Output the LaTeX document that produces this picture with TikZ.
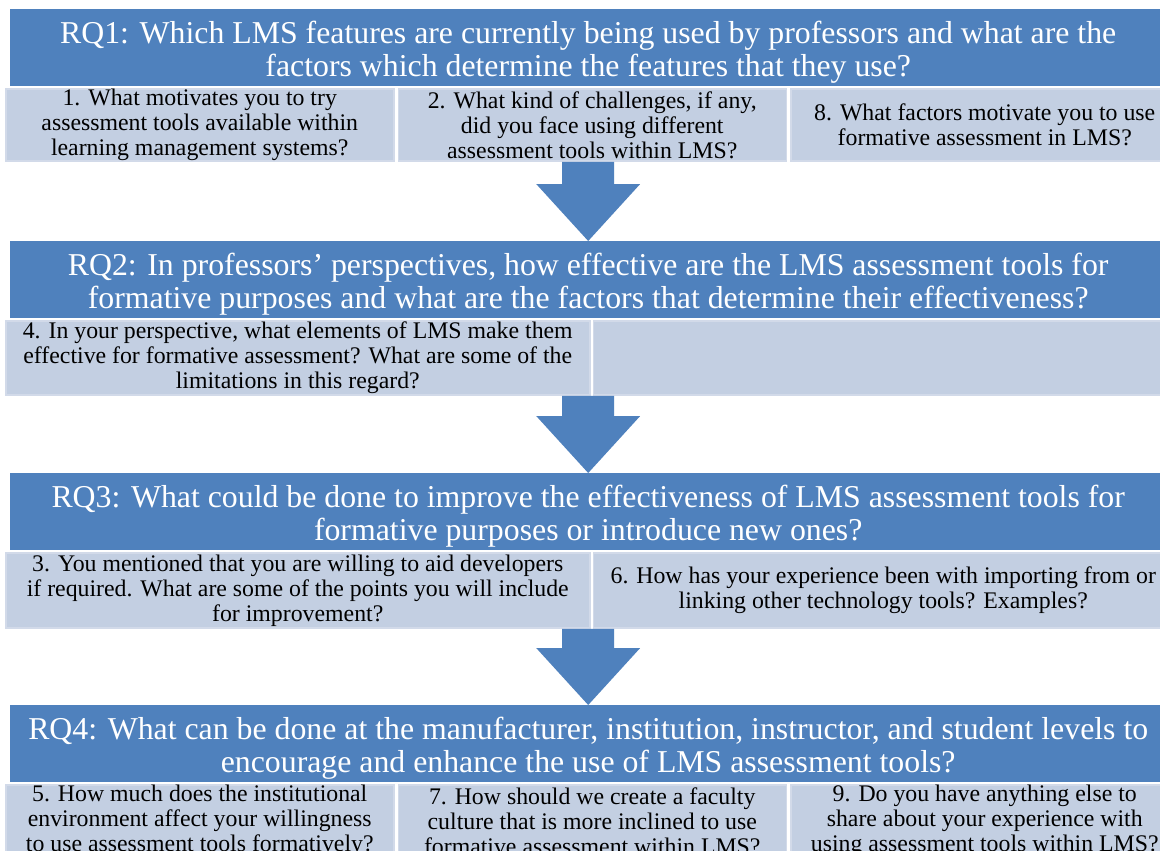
\documentclass[tikz,border=0pt]{standalone}
\usepackage{fontspec}
\setmainfont{Liberation Serif}
\usepackage{tikz}
\usetikzlibrary{positioning, calc}
\definecolor{headblue}{RGB}{79, 129, 189}
\definecolor{qfill}{RGB}{195, 207, 226}
\definecolor{qedge}{RGB}{210, 218, 233}
\tikzset{
  headbox/.style={fill=headblue, text=white, minimum width=1156pt, minimum height=77pt,
    inner sep=0pt, align=center, anchor=north west, font=\fontsize{31.8}{33}\selectfont,
    text height=64pt, text depth=7pt},
  qbox/.style={fill=qfill, draw=qedge, line width=1.5pt, minimum height=72pt,
    inner sep=0pt, align=center, font=\fontsize{23.8}{25}\selectfont},
}
\newcommand{\flowarrow}[2]{%
  \fill[headblue] let \p1=(#1), \p2=(#2) in
    ({\x2-26pt},{\y1}) -- ({\x2+26pt},{\y1}) -- ({\x2+26pt},{\y2+57pt}) -- ({\x2+52pt},{\y2+57pt})
    -- (\x2,\y2) -- ({\x2-52pt},{\y2+57pt}) -- ({\x2-26pt},{\y2+57pt}) -- cycle;}

\begin{document}
\begin{tikzpicture}[x=1pt, y=-1pt]
  \useasboundingbox[fill=white] (0,0) rectangle (1160,851);

  \node[headbox] (rq1) at (10,9) {RQ1: Which LMS features are currently being used by professors and what are the\\factors which determine the features that they use?};
  \node[qbox, minimum width=388pt, anchor=north west] (q1a) at ([xshift=-5pt, yshift=-2pt]rq1.south west)
    {1. What motivates you to try\\assessment tools available within\\learning management systems?};
  \node[qbox, minimum width=388pt, right=3pt of q1a] (q1b)
    {2. What kind of challenges, if any,\\did you face using different\\assessment tools within LMS?};
  \node[qbox, minimum width=388pt, right=3pt of q1b] (q1c)
    {8. What factors motivate you to use\\formative assessment in LMS?};

  \node[headbox] (rq2) at (10,241) {RQ2: In professors’ perspectives, how effective are the LMS assessment tools for\\formative purposes and what are the factors that determine their effectiveness?};
  \node[qbox, minimum width=584pt, minimum height=74pt, anchor=north west] (q2a) at ([xshift=-5pt, yshift=-2pt]rq2.south west)
    {4. In your perspective, what elements of LMS make them\\effective for formative assessment? What are some of the\\limitations in this regard?};
  \node[qbox, minimum width=580pt, minimum height=74pt, right=2pt of q2a] (q2b) {};

  \node[headbox] (rq3) at (10,473) {RQ3: What could be done to improve the effectiveness of LMS assessment tools for\\formative purposes or introduce new ones?};
  \node[qbox, minimum width=584pt, minimum height=75pt, anchor=north west] (q3a) at ([xshift=-5pt, yshift=-2pt]rq3.south west)
    {3. You mentioned that you are willing to aid developers\\if required. What are some of the points you will include\\for improvement?};
  \node[qbox, minimum width=580pt, minimum height=75pt, right=2pt of q3a] (q3b)
    {6. How has your experience been with importing from or\\linking other technology tools? Examples?};

  \node[headbox] (rq4) at (10,705) {RQ4: What can be done at the manufacturer, institution, instructor, and student levels to\\encourage and enhance the use of LMS assessment tools?};
  \node[qbox, minimum width=388pt, anchor=north west] (q4a) at ([xshift=-5pt, yshift=-2pt]rq4.south west)
    {5. How much does the institutional\\environment affect your willingness\\to use assessment tools formatively?};
  \node[qbox, minimum width=388pt, right=3pt of q4a] (q4b)
    {7. How should we create a faculty\\culture that is more inclined to use\\formative assessment within LMS?};
  \node[qbox, minimum width=388pt, right=3pt of q4b] (q4c)
    {9. Do you have anything else to\\share about your experience with\\using assessment tools within LMS?};

  \flowarrow{q1b.south}{rq2.north}
  \flowarrow{q2a.south}{rq3.north}
  \flowarrow{q3a.south}{rq4.north}
\end{tikzpicture}
\end{document}
